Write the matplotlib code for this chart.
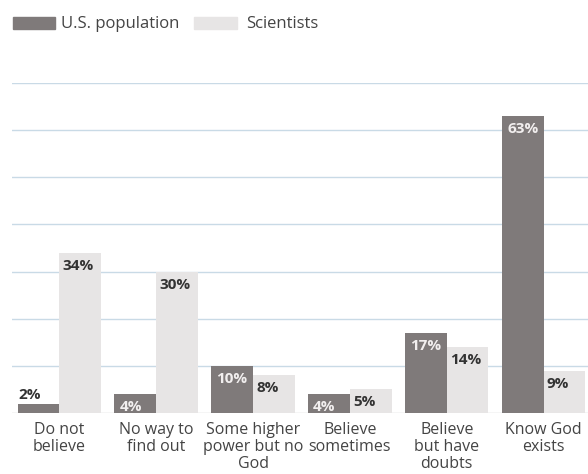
import matplotlib
matplotlib.use("Agg")
import matplotlib.pyplot as plt
from matplotlib.patches import Rectangle
import numpy as np

# Survey data: belief in God, U.S. population vs. scientists (percent)
categories = ["Do not\nbelieve", "No way to\nfind out", "Some higher\npower but no\nGod",
              "Believe\nsometimes", "Believe\nbut have\ndoubts", "Know God\nexists"]
us_population = [2, 4, 10, 4, 17, 63]
scientists = [34, 30, 8, 5, 14, 9]
series_names = ["U.S. population", "Scientists"]

DARK = "#7f7a7a"
LIGHT = "#e7e5e5"
GRID = "#c9dae6"
TEXT = "#333333"
FONT = "Open Sans"

W, H = 588, 474
fig = plt.figure(figsize=(W / 100, H / 100), dpi=100)
fig.patch.set_facecolor("white")

# axes placed in pixel terms: baseline at y=413, 70% line at y=83
ax = fig.add_axes([12 / W, (H - 413) / H, 576 / W, 330 / H])
ax.set_ylim(0, 70)
ax.set_xlim(-0.487, 5.457)
ax.axis("off")

for g in range(10, 71, 10):
    ax.axhline(g, color=GRID, lw=1.0, zorder=0)
ax.axhline(0, color="#cccccc", lw=1.0, zorder=0)

x = np.arange(len(categories))
w = 0.43
bars_us = ax.bar(x - w / 2, us_population, width=w, color=DARK, zorder=2)
bars_sc = ax.bar(x + w / 2, scientists, width=w, color=LIGHT, zorder=2)

# value labels: inside the top of each bar, left-aligned
for rect, v in zip(bars_us, us_population):
    if v < 3:
        ax.annotate(f"{v}%", (rect.get_x(), v), xytext=(1, 2), textcoords="offset pixels",
                    ha="left", va="bottom", fontsize=11, fontweight="bold",
                    color=TEXT, family=FONT, zorder=3)
    else:
        ax.annotate(f"{v}%", (rect.get_x(), v), xytext=(5, -6), textcoords="offset pixels",
                    ha="left", va="top", fontsize=11, fontweight="bold",
                    color="#f2efef", family=FONT, zorder=3)
for rect, v in zip(bars_sc, scientists):
    ax.annotate(f"{v}%", (rect.get_x(), v), xytext=(3, -6), textcoords="offset pixels",
                ha="left", va="top", fontsize=11, fontweight="bold",
                color=TEXT, family=FONT, zorder=3)

# category labels under each group
for xi, lab in zip(x, categories):
    ax.annotate(lab, (xi, 0), xytext=(0, -9), textcoords="offset pixels",
                ha="center", va="top", fontsize=11.5, color="#444444",
                family=FONT, linespacing=1.1, annotation_clip=False)

# legend drawn at the top left
def fig_box(x0, y0, x1, y1, color):
    fig.patches.append(Rectangle((x0 / W, 1 - y1 / H), (x1 - x0) / W, (y1 - y0) / H,
                                 transform=fig.transFigure, color=color))

fig_box(13, 17, 55, 29, DARK)
fig.text(61 / W, 1 - 24 / H, series_names[0], ha="left", va="center",
         fontsize=12, color="#444444", family=FONT)
fig_box(194, 17, 237, 29, LIGHT)
fig.text(246 / W, 1 - 24 / H, series_names[1], ha="left", va="center",
         fontsize=12, color="#444444", family=FONT)

fig.savefig("out.png", dpi=100)
